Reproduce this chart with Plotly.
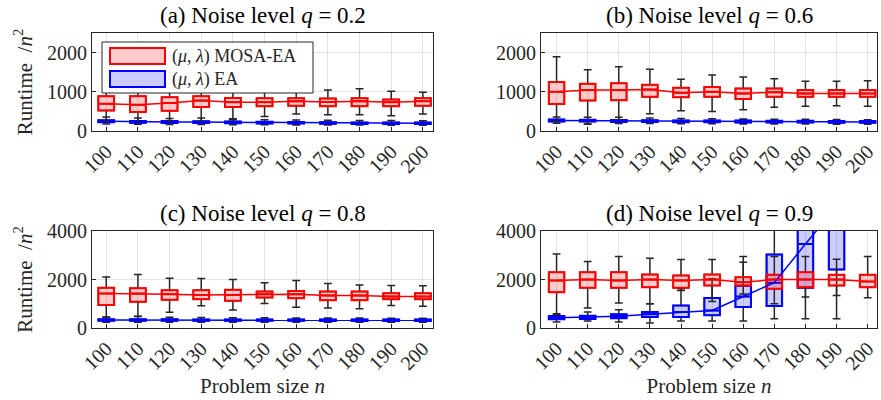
import plotly.graph_objects as go
from plotly.subplots import make_subplots

sizes = [100, 110, 120, 130, 140, 150, 160, 170, 180, 190, 200]
panel_titles = ["(a) Noise level <i>q</i> = 0.2", "(b) Noise level <i>q</i> = 0.6",
                "(c) Noise level <i>q</i> = 0.8", "(d) Noise level <i>q</i> = 0.9"]
series_names = ["(<i>μ</i>, <i>λ</i>) MOSA-EA", "(<i>μ</i>, <i>λ</i>) EA"]

# ---- (a) q = 0.2 ----
mosa_a_lo  = [260, 250, 260, 250, 284, 370, 431, 414, 414, 388, 431]
mosa_a_q1  = [526, 483, 517, 612, 612, 629, 647, 629, 629, 629, 647]
mosa_a_med = [698, 672, 716, 776, 733, 733, 759, 741, 759, 733, 759]
mosa_a_q3  = [888, 888, 862, 888, 845, 836, 836, 828, 836, 802, 836]
mosa_a_hi  = [1150, 1200, 1150, 1250, 1150, 1060, 1050, 1043, 1078, 1017, 991]
ea_a_lo  = [180, 170, 165, 165, 160, 160, 155, 150, 150, 148, 145]
ea_a_q1  = [225, 212, 207, 205, 200, 194, 190, 185, 180, 178, 176]
ea_a_med = [250, 235, 230, 228, 222, 215, 210, 205, 200, 198, 195]
ea_a_q3  = [275, 258, 253, 250, 244, 236, 230, 225, 220, 218, 214]
ea_a_hi  = [360, 330, 320, 330, 310, 290, 280, 275, 270, 265, 260]

# ---- (b) q = 0.6 ----
mosa_b_lo  = [250, 180, 284, 440, 517, 500, 543, 603, 629, 647, 629]
mosa_b_q1  = [690, 776, 784, 871, 862, 871, 819, 871, 871, 871, 871]
mosa_b_med = [1000, 1043, 1043, 1060, 974, 1000, 957, 991, 957, 957, 957]
mosa_b_q3  = [1250, 1207, 1215, 1181, 1103, 1120, 1086, 1086, 1043, 1043, 1043]
mosa_b_hi  = [1897, 1560, 1638, 1578, 1319, 1431, 1379, 1336, 1267, 1267, 1284]
ea_b_lo  = [200, 180, 190, 190, 185, 185, 180, 180, 178, 175, 172]
ea_b_q1  = [245, 240, 232, 228, 225, 222, 220, 218, 216, 213, 210]
ea_b_med = [270, 265, 255, 250, 248, 245, 242, 240, 238, 235, 232]
ea_b_q3  = [295, 290, 280, 273, 270, 268, 265, 262, 260, 257, 254]
ea_b_hi  = [360, 350, 350, 330, 320, 310, 305, 300, 300, 295, 290]

# ---- (c) q = 0.8 ----
mosa_c_lo  = [446, 486, 649, 919, 743, 1014, 851, 824, 797, 932, 892]
mosa_c_q1  = [946, 1081, 1162, 1189, 1122, 1257, 1230, 1149, 1149, 1189, 1189]
mosa_c_med = [1419, 1419, 1392, 1365, 1365, 1392, 1392, 1338, 1338, 1297, 1297]
mosa_c_q3  = [1662, 1635, 1554, 1554, 1581, 1500, 1527, 1500, 1500, 1432, 1432]
mosa_c_hi  = [2108, 2203, 2054, 2041, 2000, 1865, 1959, 1838, 1770, 1757, 1743]
ea_c_lo  = [240, 235, 240, 240, 238, 240, 238, 236, 236, 234, 232]
ea_c_q1  = [300, 298, 298, 296, 296, 295, 294, 293, 292, 291, 290]
ea_c_med = [330, 328, 327, 325, 324, 323, 322, 321, 320, 319, 318]
ea_c_q3  = [360, 358, 356, 354, 352, 351, 350, 349, 348, 347, 346]
ea_c_hi  = [450, 470, 440, 430, 420, 420, 415, 410, 410, 405, 400]

# ---- (d) q = 0.9 ----
mosa_d_lo  = [548, 822, 1027, 1000, 1548, 1096, 1400, 1000, 1274, 1342, 1247]
mosa_d_q1  = [1479, 1658, 1658, 1685, 1658, 1753, 1753, 1616, 1685, 1753, 1685]
mosa_d_med = [1959, 2000, 1959, 2000, 1959, 2000, 1890, 2000, 2000, 2000, 1918]
mosa_d_q3  = [2301, 2301, 2301, 2205, 2164, 2205, 2096, 2192, 2301, 2192, 2192]
mosa_d_hi  = [3055, 2740, 2945, 2877, 2822, 2822, 2945, 2945, 2945, 2830, 2945]
ea_d_lo  = [247, 288, 247, 205, 288, 288, 288, 384, 384, 384, 4500]
ea_d_q1  = [356, 370, 397, 452, 452, 521, 863, 904, 1658, 2411, 6000]
ea_d_med = [425, 438, 480, 562, 658, 726, 1300, 1870, 3466, 5000, 8000]
ea_d_q3  = [493, 507, 562, 658, 932, 1233, 1740, 3027, 4800, 7000, 10000]
ea_d_hi  = [589, 658, 753, 1000, 1616, 2027, 2712, 5000, 6500, 9000, 12000]

panels = [
    (mosa_a_lo, mosa_a_q1, mosa_a_med, mosa_a_q3, mosa_a_hi, ea_a_lo, ea_a_q1, ea_a_med, ea_a_q3, ea_a_hi),
    (mosa_b_lo, mosa_b_q1, mosa_b_med, mosa_b_q3, mosa_b_hi, ea_b_lo, ea_b_q1, ea_b_med, ea_b_q3, ea_b_hi),
    (mosa_c_lo, mosa_c_q1, mosa_c_med, mosa_c_q3, mosa_c_hi, ea_c_lo, ea_c_q1, ea_c_med, ea_c_q3, ea_c_hi),
    (mosa_d_lo, mosa_d_q1, mosa_d_med, mosa_d_q3, mosa_d_hi, ea_d_lo, ea_d_q1, ea_d_med, ea_d_q3, ea_d_hi),
]
y_ranges = [[0, 2500], [0, 2500], [0, 4000], [0, 4000]]
y_ticks = [[0, 1000, 2000], [0, 1000, 2000], [0, 2000, 4000], [0, 2000, 4000]]

FONT = "Liberation Serif, Times New Roman, serif"
TXT = "#262626"
RED = "#ff0000"
BLUE = "#0000ff"
RED_FILL = "rgba(255,0,0,0.2)"
BLUE_FILL = "rgba(0,0,255,0.2)"
TICK_SIZE = 20
TITLE_SIZE = 23
LABEL_SIZE = 21
LEGEND_SIZE = 18

fig = make_subplots(rows=2, cols=2)


def add_series(row, col, lo, q1, med, q3, hi, color, fill, name):
    # whiskers (black)
    fig.add_trace(go.Box(x=sizes, lowerfence=lo, q1=q1, median=med, q3=q3, upperfence=hi,
                         width=5, whiskerwidth=0.5, line=dict(color=TXT, width=1.5),
                         fillcolor="rgba(0,0,0,0)", boxpoints=False, showlegend=False,
                         name=name, hoverinfo="skip"), row=row, col=col)
    # coloured box on top
    fig.add_trace(go.Box(x=sizes, lowerfence=q1, q1=q1, median=med, q3=q3, upperfence=q3,
                         width=5, whiskerwidth=0, line=dict(color=color, width=2),
                         fillcolor=fill, boxpoints=False, name=name, showlegend=False),
                  row=row, col=col)
    # median line
    fig.add_trace(go.Scatter(x=sizes, y=med, mode="lines", line=dict(color=color, width=1.5),
                             showlegend=False, name=name, hoverinfo="skip"),
                  row=row, col=col)


for i, p in enumerate(panels):
    r, c = i // 2 + 1, i % 2 + 1
    add_series(r, c, *p[5:], BLUE, BLUE_FILL, series_names[1])
    add_series(r, c, *p[:5], RED, RED_FILL, series_names[0])

W, H = 881, 400
x_doms = [[92 / W, 433 / W], [541 / W, 877 / W]]
x_ranges = [[95.5, 203.2], [95.0, 203.0]]
y_doms = [[1 - 131 / H, 1 - 33 / H], [1 - 328 / H, 1 - 231 / H]]

for i in range(4):
    r, c = i // 2, i % 2
    xa = "xaxis" if i == 0 else f"xaxis{i + 1}"
    ya = "yaxis" if i == 0 else f"yaxis{i + 1}"
    fig.layout[xa].update(domain=x_doms[c], range=x_ranges[c], tickvals=sizes,
                          ticktext=[str(s) for s in sizes], tickangle=-45,
                          showgrid=True, gridcolor="#e3e3e3", gridwidth=1,
                          showline=True, linecolor=TXT, linewidth=1, mirror=True,
                          ticks="inside", ticklen=4, tickcolor=TXT, zeroline=False,
                          automargin=False,
                          tickfont=dict(family=FONT, size=TICK_SIZE, color=TXT))
    fig.layout[ya].update(domain=y_doms[r], range=y_ranges[i], tickvals=y_ticks[i],
                          showgrid=True, gridcolor="#e3e3e3", gridwidth=1,
                          showline=True, linecolor=TXT, linewidth=1, mirror=True,
                          ticks="inside", ticklen=4, tickcolor=TXT, zeroline=False,
                          automargin=False,
                          tickfont=dict(family=FONT, size=TICK_SIZE, color=TXT))
    if c == 0:
        fig.layout[ya].title = dict(text="Runtime  /<i>n</i><sup>2</sup>",
                                    font=dict(family=FONT, size=LABEL_SIZE, color=TXT), standoff=8)
    if r == 1:
        fig.layout[xa].title = dict(text="Problem size <i>n</i>",
                                    font=dict(family=FONT, size=LABEL_SIZE, color=TXT), standoff=2)
    fig.add_annotation(text=panel_titles[i], x=sum(x_doms[c]) / 2, y=y_doms[r][1],
                       xref="paper", yref="paper", xanchor="center", yanchor="bottom",
                       yshift=3, showarrow=False,
                       font=dict(family=FONT, size=TITLE_SIZE, color="#000000"))


def px_x(v):
    return v / W


def px_y(v):
    return 1 - v / H


# legend box (drawn inside panel (a), as in the reference)
fig.add_shape(type="rect", xref="paper", yref="paper", layer="above",
              x0=px_x(102), x1=px_x(313), y0=px_y(93), y1=px_y(42),
              fillcolor="white", line=dict(color=TXT, width=1))
legend_items = [(series_names[0], RED, RED_FILL, 48, 64),
                (series_names[1], BLUE, BLUE_FILL, 71, 87)]
for name, col, fill, top, bot in legend_items:
    fig.add_shape(type="rect", xref="paper", yref="paper", layer="above",
                  x0=px_x(110), x1=px_x(165), y0=px_y(bot), y1=px_y(top),
                  fillcolor=fill, line=dict(color=col, width=2))
    fig.add_annotation(text=name, x=px_x(170), y=px_y((top + bot) / 2), xref="paper",
                       yref="paper", xanchor="left", yanchor="middle", showarrow=False,
                       font=dict(family=FONT, size=LEGEND_SIZE, color=TXT))

fig.update_layout(
    width=W, height=H, margin=dict(l=0, r=0, t=0, b=0),
    paper_bgcolor="white", plot_bgcolor="white", boxmode="overlay",
    font=dict(family=FONT, size=TICK_SIZE, color=TXT),
    showlegend=False,
)

fig.write_html("out.html", config={"displayModeBar": False},
               post_script="document.body.style.margin='0';document.body.style.overflow='hidden';")
